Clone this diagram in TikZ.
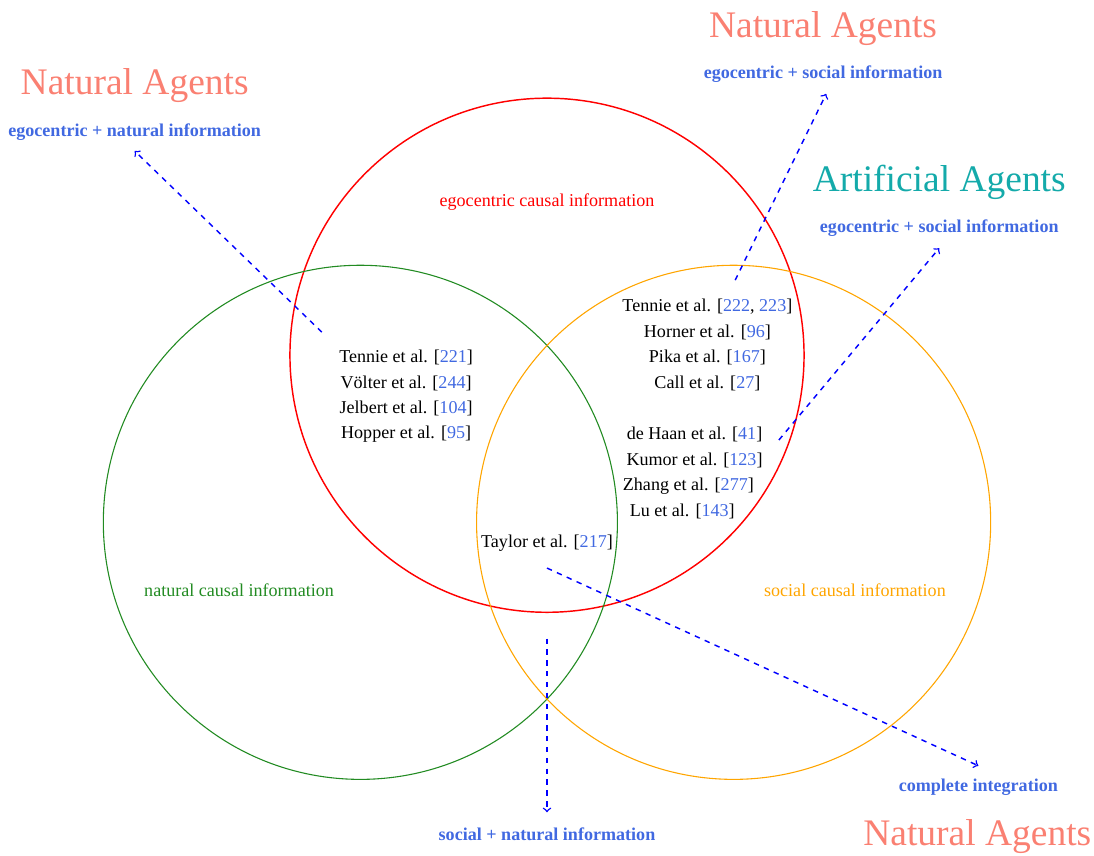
\documentclass[tikz,border=0pt]{standalone}
\usepackage{fontspec}
\setmainfont{Liberation Serif}
\usepackage{tikz}
\usetikzlibrary{arrows,positioning}
\definecolor{agentred}{RGB}{250,128,114}
\definecolor{agentteal}{RGB}{20,170,170}
\definecolor{citeblue}{RGB}{65,105,225}
\definecolor{socialorange}{RGB}{255,165,0}
\definecolor{naturalgreen}{RGB}{34,139,34}
\tikzstyle{set} = [circle, minimum size=10cm, inner sep=0pt]
\tikzstyle{agents} = [font=\huge, text=agentred]
\tikzstyle{artificial} = [font=\huge, text=agentteal]
\tikzstyle{combo} = [font=\bfseries, text=citeblue]
\tikzstyle{study} = [inner sep=1pt]
\tikzstyle{link} = [draw, dashed, thick, color=blue, ->]
\newcommand{\agents}[2]{node (a#1) [agents] {#2}}
\newcommand{\combo}[2]{node (l#1) [combo] {#2}}
\newcommand{\study}[2]{node (s#1) [study] {#2}}
\newcommand{\refno}[1]{\textcolor{citeblue}{#1}}

\begin{document}
\begin{tikzpicture}
\useasboundingbox (-10.64,-9.73) rectangle (10.64,6.91);
\node (c1) [set, draw=red, thick] at (0,0) {};
\path (c1)+(-3.63,-3.25) node (c2) [set, draw=naturalgreen, semithick] {};
\path (c1)+(3.63,-3.25) node (c3) [set, draw=socialorange, semithick] {};

\path (c1)+(0,2.98) node (t1) [text=red] {egocentric causal information};
\path (c1)+(-5.99,-4.57) node (t2) [text=naturalgreen] {natural causal information};
\path (c1)+(5.99,-4.57) node (t3) [text=socialorange] {social causal information};

% egocentric + natural
\path (c1)+(-2.74,-0.04) \study{1}{Tennie et al. [\refno{221}]};
\path (s1)+(0,-0.5) \study{2}{Völter et al. [\refno{244}]};
\path (s2)+(0,-0.5) \study{3}{Jelbert et al. [\refno{104}]};
\path (s3)+(0,-0.5) \study{4}{Hopper et al. [\refno{95}]};

% egocentric + social
\path (c1)+(3.12,0.95) \study{5}{Tennie et al. [\refno{222}, \refno{223}]};
\path (s5)+(0,-0.5) \study{6}{Horner et al. [\refno{96}]};
\path (s6)+(0,-0.5) \study{7}{Pika et al. [\refno{167}]};
\path (s7)+(0,-0.5) \study{8}{Call et al. [\refno{27}]};
\path (c1)+(2.87,-1.54) \study{9}{de Haan et al. [\refno{41}]};
\path (s9)+(0,-0.5) \study{10}{Kumor et al. [\refno{123}]};
\path (s10)+(-0.12,-0.5) \study{11}{Zhang et al. [\refno{277}]};
\path (s11)+(-0.12,-0.5) \study{12}{Lu et al. [\refno{143}]};

\path (c1)+(0,-3.66) \study{13}{Taylor et al. [\refno{217}]};

\path (c1)+(-8.02,5.25) \agents{1}{Natural Agents};
\path (a1)+(0,-0.91) \combo{1}{egocentric + natural information};
\path (c1)+(5.37,6.36) \agents{2}{Natural Agents};
\path (a2)+(0,-0.89) \combo{2}{egocentric + social information};
\path (c1)+(7.63,3.36) node (a3) [artificial] {Artificial Agents};
\path (a3)+(0,-0.89) \combo{3}{egocentric + social information};
\path (c1)+(8.39,-8.41) \combo{4}{complete integration};
\path (c1)+(8.37,-9.36) \agents{4}{Natural Agents};
\path (c1)+(0,-9.32) \combo{5}{social + natural information};

\path (c1)+(-4.38,0.45) coordinate (f1);
\path (c1)+(3.66,1.46) coordinate (f2);
\path (c1)+(4.51,-1.65) coordinate (f3);
\path (c1)+(0,-4.14) coordinate (f4);
\path (c1)+(0,-5.51) coordinate (f5);
\path [link] (f1) -- ([yshift=-0.08cm]l1.south);
\path [link] (f2) -- ([xshift=0.06cm,yshift=-0.1cm]l2.south);
\path [link] (f3) -- ([yshift=-0.1cm]l3.south);
\path [link] (f4) -- ([yshift=0.14cm]l4.north);
\path [link] (f5) -- ([yshift=0.18cm]l5.north);
\end{tikzpicture}
\end{document}
